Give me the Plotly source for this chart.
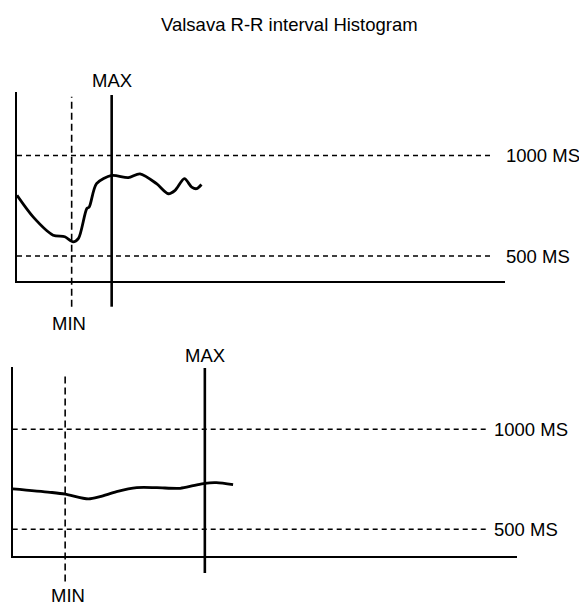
import plotly.graph_objects as go

W, H = 579, 607

# ---------------- data ----------------
TITLE = "Valsava R-R interval Histogram"
REF_LEVELS = [1000, 500]
REF_LABELS = ["1000 MS", "500 MS"]

# top panel (R-R interval, ms)
top_x = [0, 3.3, 7.4, 9.8, 11.5, 12.6, 14.3, 14.8, 16.3, 19.4, 22.8, 25.2, 28.6, 31.0, 32.4, 34.3, 35.8, 36.8, 37.8]
top_y = [802, 695, 604, 596, 571, 588, 736, 744, 860, 901, 890, 909, 860, 810, 827, 885, 843, 835, 856]
top_min_x = 11.2
top_max_x = 19.4

# bottom panel
bot_x = [0, 7.4, 10.4, 15.0, 17.3, 20.6, 24.6, 28.6, 33.2, 35.8, 38.1, 40.4, 43.7]
bot_y = [702, 685, 676, 652, 663, 688, 708, 708, 705, 718, 730, 733, 723]
bot_min_x = 10.4
bot_max_x = 38.1

FONT = "Liberation Sans, Arial, Helvetica, sans-serif"
FS = 18.5


def px(x):
    return x / W


def py(y):
    return 1 - y / H


fig = go.Figure()
fig.add_trace(go.Scatter(x=top_x, y=top_y, mode="lines", xaxis="x", yaxis="y",
                         line=dict(color="black", width=2.8, shape="spline", smoothing=0.8),
                         hoverinfo="skip"))
fig.add_trace(go.Scatter(x=bot_x, y=bot_y, mode="lines", xaxis="x2", yaxis="y2",
                         line=dict(color="black", width=2.8, shape="spline", smoothing=0.8),
                         hoverinfo="skip"))

ax_common = dict(showgrid=False, zeroline=False, showticklabels=False, ticks="",
                 showline=True, linecolor="black", linewidth=2)

panels = [
    dict(xa="x", ya="y", xd=(17, 505), yd=(92, 281), yr=(376, 1316), dash_end=97.3, lab_x=504,
         mn=top_min_x, mx=top_max_x, mn_span=(-0.136, 0.975), mx_span=(-0.136, 0.984),
         max_lab_y=81, min_lab=(323, "middle"), min_shift=-3),
    dict(xa="x2", ya="y2", xd=(12.7, 517), yd=(366.7, 556), yr=(366.5, 1313), dash_end=94.2, lab_x=492,
         mn=bot_min_x, mx=bot_max_x, mn_span=(-0.135, 0.967), mx_span=(-0.09, 0.993),
         max_lab_y=355, min_lab=(607, "bottom"), min_shift=3),
]

layout_axes = {}
shapes = []
annotations = []
for i, p in enumerate(panels):
    xk = "xaxis" if i == 0 else "xaxis2"
    yk = "yaxis" if i == 0 else "yaxis2"
    layout_axes[xk] = dict(ax_common, domain=[px(p["xd"][0]), px(p["xd"][1])], range=[0, 100],
                           anchor=p["ya"])
    layout_axes[yk] = dict(ax_common, domain=[py(p["yd"][1]), py(p["yd"][0])], range=list(p["yr"]),
                           anchor=p["xa"])
    for lvl, lab in zip(REF_LEVELS, REF_LABELS):
        shapes.append(dict(type="line", xref=p["xa"], yref=p["ya"], x0=0, x1=p["dash_end"],
                           y0=lvl, y1=lvl, line=dict(color="black", width=1.6, dash="5px,4px")))
        annotations.append(dict(text=lab, xref="paper", yref=p["ya"], x=px(p["lab_x"]), y=lvl,
                                xanchor="left", yanchor="middle", showarrow=False,
                                font=dict(family=FONT, size=FS, color="black")))
    shapes.append(dict(type="line", xref=p["xa"], yref=p["ya"] + " domain", x0=p["mn"], x1=p["mn"],
                       y0=p["mn_span"][0], y1=p["mn_span"][1],
                       line=dict(color="black", width=1.6, dash="7px,4px")))
    shapes.append(dict(type="line", xref=p["xa"], yref=p["ya"] + " domain", x0=p["mx"], x1=p["mx"],
                       y0=p["mx_span"][0], y1=p["mx_span"][1],
                       line=dict(color="black", width=2.6)))
    annotations.append(dict(text="MAX", xref=p["xa"], yref="paper", x=p["mx"], y=py(p["max_lab_y"]),
                            xanchor="center", yanchor="middle", showarrow=False,
                            font=dict(family=FONT, size=FS, color="black")))
    annotations.append(dict(text="MIN", xref=p["xa"], yref="paper", x=p["mn"], y=py(p["min_lab"][0]),
                            xanchor="center", yanchor=p["min_lab"][1], showarrow=False,
                            xshift=p["min_shift"], borderpad=0,
                            font=dict(family=FONT, size=FS, color="black")))

annotations.append(dict(text=TITLE, xref="paper", yref="paper", x=0.5, y=py(25),
                        xanchor="center", yanchor="middle", showarrow=False,
                        font=dict(family=FONT, size=FS, color="black")))

fig.update_layout(width=W, height=H, margin=dict(l=0, r=0, t=0, b=0),
                  paper_bgcolor="white", plot_bgcolor="white", showlegend=False,
                  shapes=shapes, annotations=annotations, **layout_axes)

fig.write_html("out.html", config={"displayModeBar": False, "staticPlot": True},
               post_script="document.body.style.margin='0';document.body.style.padding='0';"
                           "document.body.style.overflow='hidden';")
